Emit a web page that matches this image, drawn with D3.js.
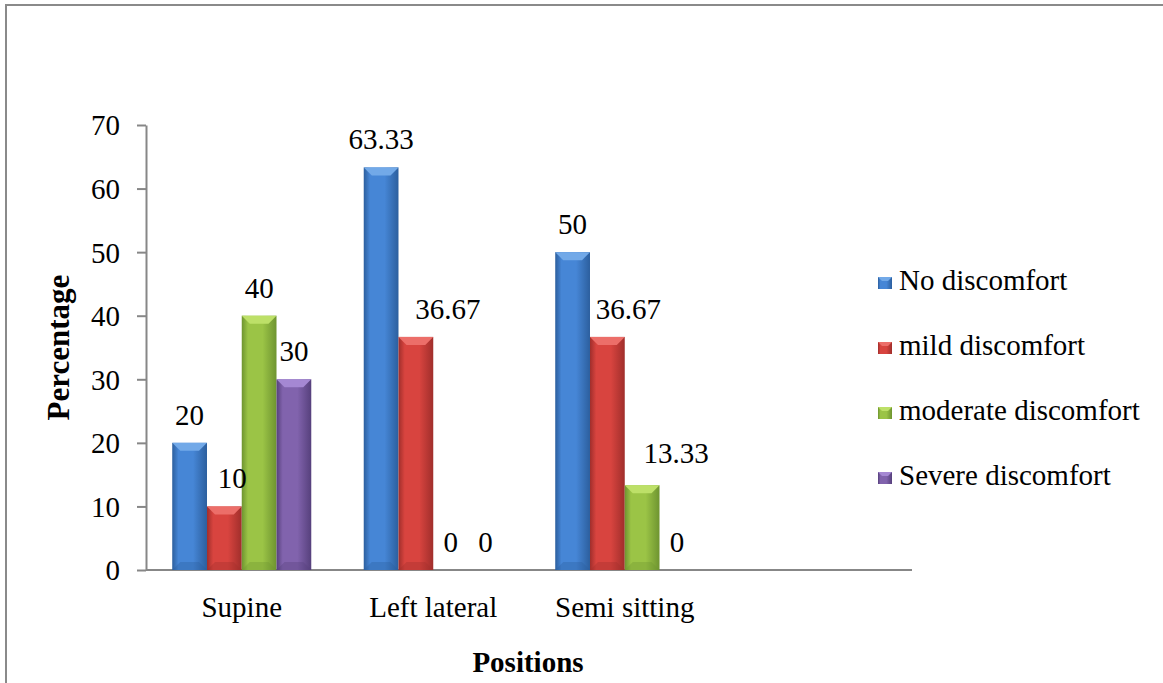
<!DOCTYPE html>
<html>
<head>
<meta charset="utf-8">
<script src="https://cdn.jsdelivr.net/npm/d3@7"></script>
<style>
  body { margin: 0; background: #fff; }
  text { font-family: "Liberation Serif", "Times New Roman", serif; fill: #000; }
</style>
</head>
<body>
<div id="chart"></div>
<script>
// chart data
const categories = ["Supine", "Left lateral", "Semi sitting"];
const seriesNames = ["No discomfort", "mild discomfort", "moderate discomfort", "Severe discomfort"];
const noDiscomfort = [20, 63.33, 50];
const mildDiscomfort = [10, 36.67, 36.67];
const moderateDiscomfort = [40, 0, 13.33];
const severeDiscomfort = [30, 0, 0];
const yTicks = [0, 10, 20, 30, 40, 50, 60, 70];

const seriesValues = [noDiscomfort, mildDiscomfort, moderateDiscomfort, severeDiscomfort];

// colours per series: body edge, body centre, top bevel
const palette = [
    { edge: "#2c5f9e", mid: "#4686d6", top: "#72a9e8" },
    { edge: "#a02e2b", mid: "#d8443f", top: "#ec6e69" },
    { edge: "#6e9430", mid: "#9bc446", top: "#bde068" },
    { edge: "#56407c", mid: "#8163ad", top: "#a588d3" }
];

// manual label nudges, as in the original chart
const labelNudge = {
    "Supine|mild discomfort": { dx: 8, dy: 0 },
    "Left lateral|mild discomfort": { dx: 32, dy: 0 },
    "Semi sitting|mild discomfort": { dx: 21, dy: 0 },
    "Semi sitting|moderate discomfort": { dx: 34, dy: -4 }
};

const W = 1163, H = 683;
const plot = { left: 146, right: 912, top: 125, bottom: 570 };
const fs = 29;

const svg = d3.select("#chart").append("svg")
    .attr("width", W)
    .attr("height", H);

// frame (only top and left edges visible)
svg.append("path")
    .attr("d", `M6,${H} L6,5 L${W},5`)
    .attr("fill", "none")
    .attr("stroke", "#8a8a8a")
    .attr("stroke-width", 2);

const defs = svg.append("defs");
palette.forEach((p, i) => {
    const g = defs.append("linearGradient")
        .attr("id", "grad" + i)
        .attr("x1", "0%").attr("x2", "100%").attr("y1", "0%").attr("y2", "0%");
    g.append("stop").attr("offset", "0%").attr("stop-color", p.edge);
    g.append("stop").attr("offset", "18%").attr("stop-color", p.mid);
    g.append("stop").attr("offset", "60%").attr("stop-color", p.mid);
    g.append("stop").attr("offset", "100%").attr("stop-color", p.edge);
});

// scales: Excel left an empty fourth category slot
const x0 = d3.scaleBand()
    .domain([...categories, ""])
    .range([plot.left, plot.right])
    .paddingInner(0.274)
    .paddingOuter(0.137);

const x1 = d3.scaleBand()
    .domain(seriesNames)
    .range([0, x0.bandwidth()]);

const y = d3.scaleLinear()
    .domain([0, 70])
    .range([plot.bottom, plot.top]);

// y axis
const yAxis = svg.append("g")
    .attr("transform", `translate(${plot.left},0)`)
    .call(d3.axisLeft(y).tickValues(yTicks).tickSize(9).tickSizeOuter(0).tickPadding(17));
yAxis.select(".domain").attr("stroke", "#878787").attr("stroke-width", 2);
yAxis.selectAll(".tick line").attr("stroke", "#878787").attr("stroke-width", 2);
yAxis.selectAll(".tick text")
    .attr("font-size", fs)
    .attr("dy", "0.34em");

// x axis line
svg.append("line")
    .attr("x1", plot.left).attr("x2", plot.right)
    .attr("y1", plot.bottom).attr("y2", plot.bottom)
    .attr("stroke", "#878787")
    .attr("stroke-width", 2);

// category labels
svg.selectAll(".cat")
    .data(categories)
    .enter()
    .append("text")
    .attr("class", "cat")
    .attr("x", d => x0(d) + x0.bandwidth() / 2)
    .attr("y", 617)
    .attr("text-anchor", "middle")
    .attr("font-size", fs)
    .text(d => d);

// flatten to bar records
const bars = [];
categories.forEach((c, ci) => {
    seriesNames.forEach((s, si) => {
        bars.push({ cat: c, series: s, si: si, value: seriesValues[si][ci] });
    });
});

const bw = x1.bandwidth();
const bev = 8;

const barG = svg.selectAll(".bar")
    .data(bars.filter(d => d.value > 0))
    .enter()
    .append("g")
    .attr("class", "bar");

barG.append("rect")
    .attr("x", d => x0(d.cat) + x1(d.series))
    .attr("y", d => y(d.value))
    .attr("width", bw)
    .attr("height", d => y(0) - y(d.value))
    .attr("fill", d => `url(#grad${d.si})`);

// top bevel
barG.append("path")
    .attr("d", d => {
        const bx = x0(d.cat) + x1(d.series), by = y(d.value);
        return `M${bx},${by} L${bx + bw},${by} L${bx + bw - bev},${by + bev} L${bx + bev},${by + bev} Z`;
    })
    .attr("fill", d => palette[d.si].top);

// bottom bevel (slightly darker)
barG.append("path")
    .attr("d", d => {
        const bx = x0(d.cat) + x1(d.series), by = y(0);
        return `M${bx},${by} L${bx + bw},${by} L${bx + bw - bev},${by - bev} L${bx + bev},${by - bev} Z`;
    })
    .attr("fill", d => palette[d.si].edge)
    .attr("opacity", 0.35);

// data labels
svg.selectAll(".lbl")
    .data(bars)
    .enter()
    .append("text")
    .attr("class", "lbl")
    .attr("x", d => {
        const n = labelNudge[d.cat + "|" + d.series];
        return x0(d.cat) + x1(d.series) + bw / 2 + (n ? n.dx : 0);
    })
    .attr("y", d => {
        const n = labelNudge[d.cat + "|" + d.series];
        return y(d.value) - 18 + (n ? n.dy : 0);
    })
    .attr("text-anchor", "middle")
    .attr("font-size", fs)
    .text(d => d.value);

// axis titles
svg.append("text")
    .attr("transform", `translate(69,${(plot.top + plot.bottom) / 2}) rotate(-90)`)
    .attr("text-anchor", "middle")
    .attr("font-size", 31)
    .attr("font-weight", "bold")
    .text("Percentage");

svg.append("text")
    .attr("x", 528)
    .attr("y", 672)
    .attr("text-anchor", "middle")
    .attr("font-size", 29)
    .attr("font-weight", "bold")
    .text("Positions");

// legend
const legend = svg.selectAll(".legend")
    .data(seriesNames)
    .enter()
    .append("g")
    .attr("class", "legend")
    .attr("transform", (d, i) => `translate(878,${290 + i * 65})`);

legend.append("rect")
    .attr("x", 0).attr("y", -13)
    .attr("width", 14).attr("height", 12)
    .attr("fill", (d, i) => `url(#grad${i})`);

legend.append("path")
    .attr("d", "M0,-13 L14,-13 L10,-9 L4,-9 Z")
    .attr("fill", (d, i) => palette[i].top);

legend.append("text")
    .attr("x", 21)
    .attr("y", 0)
    .attr("font-size", fs)
    .text(d => d);
</script>
</body>
</html>
